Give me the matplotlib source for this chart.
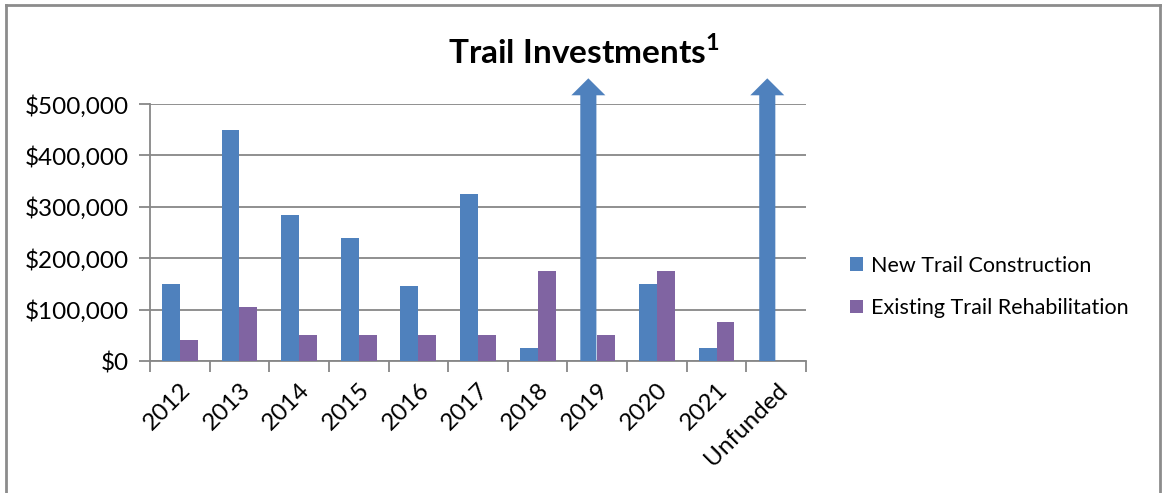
import numpy as np
import matplotlib.pyplot as plt
from matplotlib.lines import Line2D
from matplotlib.patches import FancyArrow

plt.rcParams['font.family'] = ['Lato', 'DejaVu Sans']
plt.rcParams['mathtext.fontset'] = 'custom'
plt.rcParams['mathtext.bf'] = 'Lato:bold'
plt.rcParams['mathtext.rm'] = 'Lato'

# Data
years = ['2012', '2013', '2014', '2015', '2016', '2017', '2018', '2019', '2020', '2021', 'Unfunded']
new_construction = [150000, 450000, 285000, 240000, 145000, 325000, 25000, None, 150000, 25000, None]
rehabilitation = [40000, 105000, 50000, 50000, 50000, 50000, 175000, 50000, 175000, 75000, 0]
# bars that run off the top of the scale are drawn as arrows
off_scale_top = 550000

blue = '#4F81BD'
purple = '#8064A2'
grid_gray = '#878787'

fig = plt.figure(figsize=(11.67, 4.93), dpi=100)
ax = fig.add_axes([0.1285, 0.2677, 0.5622, 0.5213])

x = np.arange(len(years))
w = 0.3

new_vals = [v if v is not None else 0 for v in new_construction]
ax.bar(x - w / 2, new_vals, w, color=blue, label='New Trail Construction', zorder=3)
ax.bar(x + w / 2, rehabilitation, w, color=purple, label='Existing Trail Rehabilitation', zorder=3)

# arrows for off-scale values
for i, v in enumerate(new_construction):
    if v is None:
        arr = FancyArrow(x[i] - w / 2, 0, 0, off_scale_top, width=0.27, head_width=0.57,
                         head_length=33000, length_includes_head=True,
                         color=blue, lw=0, clip_on=False, zorder=3)
        ax.add_patch(arr)

ax.set_xlim(-0.5, len(years) - 0.5)
ax.set_ylim(0, 500000)
ax.set_yticks(np.arange(0, 500001, 100000))
ax.set_yticklabels(['${:,.0f}'.format(v) for v in np.arange(0, 500001, 100000)], fontsize=17.5)
ax.yaxis.grid(True, color=grid_gray, lw=1.3, zorder=0)

ax.set_xticks(x)
ax.set_xticklabels(years, rotation=45, ha='right', rotation_mode='anchor', fontsize=17.5)
ax.set_xticks(np.arange(-0.5, len(years)), minor=True)
ax.tick_params(axis='x', which='major', length=0, pad=13)
ax.tick_params(axis='x', which='minor', length=8, color=grid_gray, width=1.3)
ax.tick_params(axis='y', length=8, color=grid_gray, width=1.3, pad=7)

for s in ['top', 'right']:
    ax.spines[s].set_visible(False)
for s in ['left', 'bottom']:
    ax.spines[s].set_color(grid_gray)
    ax.spines[s].set_linewidth(1.3)

fig.text(0.5, 0.895, r'Trail Investments$^{\mathbf{1}}$', ha='center', va='center',
         fontsize=24, fontweight='bold')

fig.legend(loc='center left', bbox_to_anchor=(0.712, 0.418), frameon=False,
           fontsize=15.5, handlelength=0.6, handleheight=0.6, handletextpad=0.35,
           labelspacing=1.05)

# outer chart border (bottom edge is cut off)
fx0, fx1, fy1 = 6 / 1167, 1160 / 1167, 1 - 5 / 493
for xs, ys in [([fx0, fx0], [0, fy1]), ([fx0, fx1], [fy1, fy1]), ([fx1, fx1], [fy1, 0])]:
    fig.add_artist(Line2D(xs, ys, color='#8c8c8c', lw=2, transform=fig.transFigure))

fig.savefig('out.png', dpi=100)
